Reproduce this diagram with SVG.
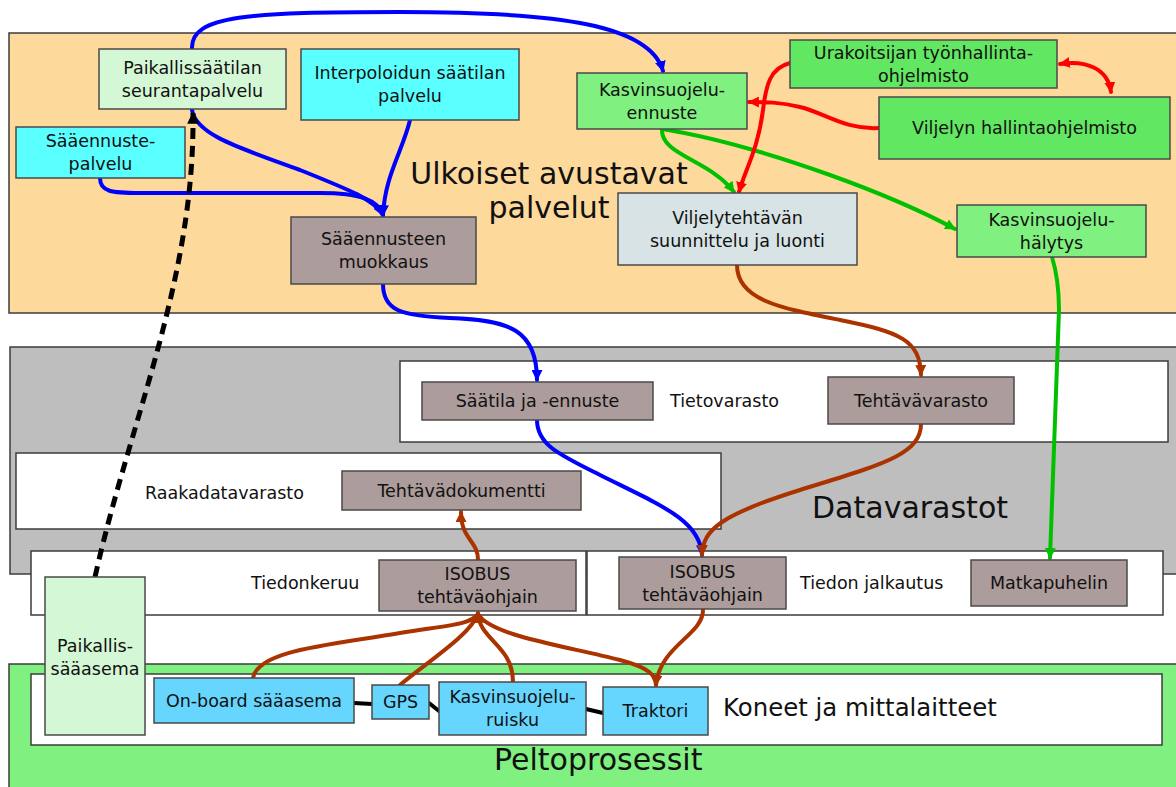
<svg xmlns="http://www.w3.org/2000/svg" width="1176" height="787" viewBox="0 0 1176 787">
  <style>
    text { font-family: "DejaVu Sans", "Liberation Sans", sans-serif; fill: #111; }
    .n { font-size: 17.5px; text-anchor: middle; }
    .lbl { font-size: 17.5px; }
    .big { font-size: 30px; }
    .panel { stroke: #3c3c3c; stroke-width: 1.5; }
    .sub { fill: #ffffff; stroke: #3c3c3c; stroke-width: 1.5; }
    .box { stroke: #4a4a4a; stroke-width: 1.5; }
    .c { fill: none; stroke-width: 4; stroke-linecap: round; }
    .blue { stroke: #0000ff; }
    .red { stroke: #ff0000; }
    .green { stroke: #00c000; }
    .brown { stroke: #aa3300; }
    .black { stroke: #000000; }
    .dash { stroke-dasharray: 11 7; stroke-width: 5; stroke-linecap: butt; }
    .grey { fill: #ac9c9b; }
    .cyan { fill: #5affff; }
    .pale { fill: #d4f8d5; }
    .lgreen { fill: #80f080; }
    .dgreen { fill: #62e762; }
    .steel { fill: #d7e3e4; }
    .sky { fill: #66d6ff; }
  </style>
  <defs>
    <marker id="ah-blue" viewBox="0 -5 10 10" refX="9" refY="0" markerWidth="11" markerHeight="11" markerUnits="userSpaceOnUse" orient="auto-start-reverse"><path d="M0,-5 L10,0 L0,5 Z" fill="#0000ff"/></marker>
    <marker id="ah-red" viewBox="0 -5 10 10" refX="9" refY="0" markerWidth="11" markerHeight="11" markerUnits="userSpaceOnUse" orient="auto-start-reverse"><path d="M0,-5 L10,0 L0,5 Z" fill="#ff0000"/></marker>
    <marker id="ah-green" viewBox="0 -5 10 10" refX="9" refY="0" markerWidth="11" markerHeight="11" markerUnits="userSpaceOnUse" orient="auto-start-reverse"><path d="M0,-5 L10,0 L0,5 Z" fill="#00c000"/></marker>
    <marker id="ah-brown" viewBox="0 -5 10 10" refX="9" refY="0" markerWidth="11" markerHeight="11" markerUnits="userSpaceOnUse" orient="auto-start-reverse"><path d="M0,-5 L10,0 L0,5 Z" fill="#aa3300"/></marker>
    <marker id="ah-black" viewBox="0 -5 10 10" refX="9" refY="0" markerWidth="12" markerHeight="12" markerUnits="userSpaceOnUse" orient="auto-start-reverse"><path d="M0,-5 L10,0 L0,5 Z" fill="#000000"/></marker>
  </defs>

  <rect width="1176" height="787" fill="#ffffff"/>

  <!-- outer panels -->
  <g id="panel-ulkoiset">
    <rect class="panel" x="9" y="33" width="1180" height="280" fill="#fed99c"/>
    <text class="big" x="549" y="184" text-anchor="middle">Ulkoiset avustavat</text>
    <text class="big" x="549" y="218" text-anchor="middle">palvelut</text>
  </g>
  <g id="panel-datavarastot">
    <rect class="panel" x="10" y="347" width="1180" height="227" fill="#bebebe"/>
    <text class="big" x="812" y="518">Datavarastot</text>
  </g>
  <g id="panel-tietovarasto">
    <rect class="sub" x="400" y="361" width="768" height="81"/>
    <text class="lbl" x="670" y="407">Tietovarasto</text>
  </g>
  <g id="panel-raakadata">
    <rect class="sub" x="16" y="453" width="705" height="76"/>
    <text class="lbl" x="145" y="499">Raakadatavarasto</text>
  </g>
  <g id="panel-tiedonkeruu">
    <rect class="sub" x="31" y="551" width="555" height="64"/>
    <text class="lbl" x="251" y="589">Tiedonkeruu</text>
  </g>
  <g id="panel-jalkautus">
    <rect class="sub" x="587" y="551" width="576" height="64"/>
    <text class="lbl" x="800" y="589">Tiedon jalkautus</text>
  </g>
  <g id="panel-peltoprosessit">
    <rect class="panel" x="9" y="664" width="1180" height="140" fill="#80f080"/>
    <text class="big" x="494" y="770">Peltoprosessit</text>
  </g>
  <g id="panel-koneet">
    <rect class="sub" x="31" y="674" width="1131" height="71"/>
    <text x="723" y="716" font-size="24.4">Koneet ja mittalaitteet</text>
  </g>

  <!-- connectors -->
  <g id="connectors">
    <!-- weather services -->
    <path class="c blue" d="M192,49 C190,15 250,12 400,12 C560,12 650,25 663,71" marker-end="url(#ah-blue)"/>
    <path class="c blue" d="M192,110 C196,135 240,148 300,170 C350,190 375,200 383,215" marker-end="url(#ah-blue)"/>
    <path class="c blue" d="M100,178 C100,192 112,193 140,193 L320,193 C360,193 378,200 383,215" marker-end="url(#ah-blue)"/>
    <path class="c blue" d="M410,120 C403,150 385,175 383,215" marker-end="url(#ah-blue)"/>
    <path class="c blue" d="M383,284 C383,310 400,316 450,318 C510,320 537,330 537,380" marker-end="url(#ah-blue)"/>
    <path class="c blue" d="M537,420 C537,445 560,455 600,475 C660,505 700,520 702,555" marker-end="url(#ah-blue)"/>

    <!-- plant protection -->
    <path class="c green" d="M662,129 C660,155 710,160 734,192" marker-end="url(#ah-green)"/>
    <path class="c green" d="M662,129 C700,135 760,150 830,175 C880,193 920,210 955,229" marker-end="url(#ah-green)"/>
    <path class="c green" d="M1052,257 C1056,270 1059,285 1059,310 L1050,558" marker-end="url(#ah-green)"/>

    <!-- farm management software -->
    <path class="c red" d="M790,63 C770,68 766,85 763,110 C758,150 745,170 739,192" marker-end="url(#ah-red)"/>
    <path class="c red" d="M879,128 C845,130 825,113 800,107 C780,102 765,102 749,102" marker-end="url(#ah-red)"/>
    <path class="c red" d="M1060,64 C1085,60 1108,68 1111,92" marker-start="url(#ah-red)" marker-end="url(#ah-red)"/>

    <!-- task data -->
    <path class="c brown" d="M737,265 C737,300 780,308 840,320 C900,332 920,340 921,375" marker-end="url(#ah-brown)"/>
    <path class="c brown" d="M921,424 C921,455 880,465 800,490 C720,515 703,530 702,555" marker-end="url(#ah-brown)"/>
    <path class="c brown" d="M703,609 C704,635 660,645 656,685" marker-end="url(#ah-brown)"/>
    <path class="c brown" d="M478,560 C478,540 461,540 461,512" marker-end="url(#ah-brown)"/>
    <path class="c brown" d="M253,678 C258,650 330,645 400,633 C450,625 470,625 478,614"/>
    <path class="c brown" d="M400,685 C430,660 470,635 478,614"/>
    <path class="c brown" d="M478,614 C490,635 560,645 620,660 C650,668 655,675 656,685"/>
    <path class="c brown" d="M513,682 C513,645 479,640 478,613" marker-end="url(#ah-brown)"/>

    <!-- local weather station link -->
    <path class="c black dash" d="M95,577 C130,420 195,280 193,113" marker-end="url(#ah-black)"/>

    <!-- machine bus -->
    <path class="c black" d="M354,703 L372,704"/>
    <path class="c black" d="M429,703 L439,711"/>
    <path class="c black" d="M586,709 L603,713"/>
  </g>

  <!-- nodes -->
  <g id="paikallissaatila">
    <rect class="box pale" x="99" y="49" width="187" height="60"/>
    <text class="n" x="192.5" y="73.5">Paikallissäätilan</text>
    <text class="n" x="192.5" y="96.5">seurantapalvelu</text>
  </g>
  <g id="interpoloitu">
    <rect class="box cyan" x="301" y="49" width="218" height="71"/>
    <text class="n" x="410" y="79">Interpoloidun säätilan</text>
    <text class="n" x="410" y="102">palvelu</text>
  </g>
  <g id="saaennustepalvelu">
    <rect class="box cyan" x="16" y="127" width="169" height="51"/>
    <text class="n" x="100.5" y="147">Sääennuste-</text>
    <text class="n" x="100.5" y="170">palvelu</text>
  </g>
  <g id="muokkaus">
    <rect class="box grey" x="291" y="217" width="185" height="67"/>
    <text class="n" x="383.5" y="245">Sääennusteen</text>
    <text class="n" x="383.5" y="268">muokkaus</text>
  </g>
  <g id="kasvinsuojeluennuste">
    <rect class="box lgreen" x="577" y="73" width="170" height="56"/>
    <text class="n" x="662" y="95.5">Kasvinsuojelu-</text>
    <text class="n" x="662" y="118.5">ennuste</text>
  </g>
  <g id="urakoitsija">
    <rect class="box dgreen" x="790" y="40" width="267" height="48"/>
    <text class="n" x="923.5" y="58.5">Urakoitsijan työnhallinta-</text>
    <text class="n" x="923.5" y="81.5">ohjelmisto</text>
  </g>
  <g id="viljelynhallinta">
    <rect class="box dgreen" x="879" y="97" width="291" height="62"/>
    <text class="n" x="1024.5" y="134">Viljelyn hallintaohjelmisto</text>
  </g>
  <g id="suunnittelu">
    <rect class="box steel" x="618" y="193" width="239" height="72"/>
    <text class="n" x="737.5" y="223.5">Viljelytehtävän</text>
    <text class="n" x="737.5" y="246.5">suunnittelu ja luonti</text>
  </g>
  <g id="halytys">
    <rect class="box lgreen" x="957" y="205" width="189" height="52"/>
    <text class="n" x="1051.5" y="225.5">Kasvinsuojelu-</text>
    <text class="n" x="1051.5" y="248.5">hälytys</text>
  </g>
  <g id="saatila">
    <rect class="box grey" x="422" y="382" width="231" height="38"/>
    <text class="n" x="537.5" y="407">Säätila ja -ennuste</text>
  </g>
  <g id="tehtavavarasto">
    <rect class="box grey" x="828" y="377" width="186" height="47"/>
    <text class="n" x="921" y="406.5">Tehtävävarasto</text>
  </g>
  <g id="tehtavadokumentti">
    <rect class="box grey" x="342" y="471" width="239" height="39"/>
    <text class="n" x="461.5" y="496.5">Tehtävädokumentti</text>
  </g>
  <g id="isobus-keruu">
    <rect class="box grey" x="379" y="560" width="197" height="51"/>
    <text class="n" x="477.5" y="580">ISOBUS</text>
    <text class="n" x="477.5" y="603">tehtäväohjain</text>
  </g>
  <g id="isobus-jalkautus">
    <rect class="box grey" x="619" y="557" width="167" height="52"/>
    <text class="n" x="702.5" y="577.5">ISOBUS</text>
    <text class="n" x="702.5" y="600.5">tehtäväohjain</text>
  </g>
  <g id="matkapuhelin">
    <rect class="box grey" x="971" y="560" width="156" height="46"/>
    <text class="n" x="1049" y="589">Matkapuhelin</text>
  </g>
  <g id="paikallissaaasema">
    <rect class="box pale" x="45" y="577" width="100" height="158"/>
    <text class="n" x="95" y="652">Paikallis-</text>
    <text class="n" x="95" y="675">sääasema</text>
  </g>
  <g id="onboard">
    <rect class="box sky" x="154" y="678" width="200" height="45"/>
    <text class="n" x="254" y="707">On-board sääasema</text>
  </g>
  <g id="gps">
    <rect class="box sky" x="372" y="685" width="57" height="34"/>
    <text class="n" x="400.5" y="708">GPS</text>
  </g>
  <g id="ruisku">
    <rect class="box sky" x="439" y="682" width="147" height="53"/>
    <text class="n" x="512.5" y="703">Kasvinsuojelu-</text>
    <text class="n" x="512.5" y="726">ruisku</text>
  </g>
  <g id="traktori">
    <rect class="box sky" x="603" y="687" width="105" height="48"/>
    <text class="n" x="655.5" y="717">Traktori</text>
  </g>
</svg>
